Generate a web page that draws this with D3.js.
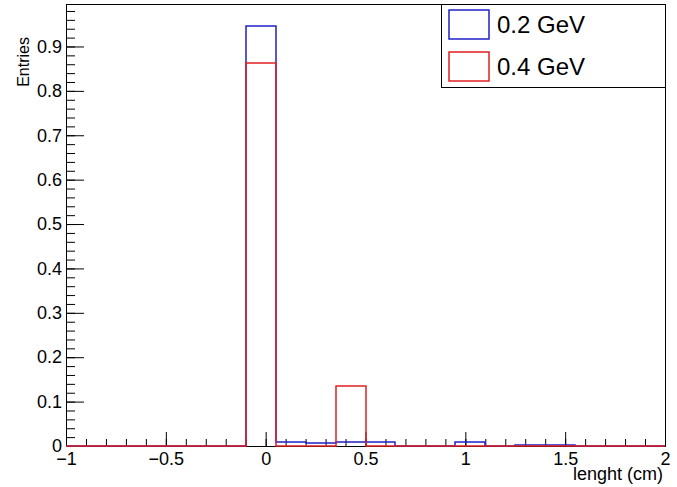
<!DOCTYPE html>
<html>
<head>
<meta charset="utf-8">
<script src="https://cdn.jsdelivr.net/npm/d3@7"></script>
<style>
  body { margin: 0; background: #fff; }
  svg { display: block; }
</style>
</head>
<body>
<svg width="677" height="487"></svg>
<script>
// bin edges of the histogram (20 bins of 0.15 from -1 to 2)
var binEdges = [-1, -0.85, -0.7, -0.55, -0.4, -0.25, -0.1, 0.05, 0.2, 0.35, 0.5,
  0.65, 0.8, 0.95, 1.1, 1.25, 1.4, 1.55, 1.7, 1.85, 2];

var series = ['0.2 GeV', '0.4 GeV'];
var colors = ['#2020c8', '#e02020'];

var entries02 = [0, 0, 0, 0, 0, 0, 0.946, 0.0097, 0.0062, 0.008, 0.008,
  0, 0, 0.009, 0, 0.002, 0.002, 0, 0, 0];
var entries04 = [0, 0, 0, 0, 0, 0, 0.862, 0, 0, 0.136, 0,
  0, 0, 0, 0, 0, 0, 0, 0, 0];

var xTicks = [-1, -0.5, 0, 0.5, 1, 1.5, 2];
var xTickLabels = ['\u22121', '\u22120.5', '0', '0.5', '1', '1.5', '2'];
var yTicks = [0, 0.1, 0.2, 0.3, 0.4, 0.5, 0.6, 0.7, 0.8, 0.9];
var yTickLabels = ['0', '0.1', '0.2', '0.3', '0.4', '0.5', '0.6', '0.7', '0.8', '0.9'];
var yMax = 0.9957;

var font = '"Liberation Sans", Arial, Helvetica, sans-serif';
var frameL = 66, frameR = 665, frameT = 4, frameB = 446;

var svg = d3.select('svg').style('font-family', font);
svg.append('rect').attr('width', 677).attr('height', 487).attr('fill', '#fff');

var x = d3.scaleLinear().domain([-1, 2]).range([frameL, frameR]);
var y = d3.scaleLinear().domain([0, yMax]).range([frameB, frameT]);

// frame
svg.append('rect')
  .attr('x', frameL + 0.5).attr('y', frameT + 0.5)
  .attr('width', frameR - frameL).attr('height', frameB - frameT)
  .attr('fill', 'none').attr('stroke', '#000').attr('stroke-width', 1);

function styleAxis(g) {
  g.select('.domain').remove();
  g.selectAll('line').attr('stroke', '#000');
  g.attr('font-family', font).attr('font-size', 18);
  g.selectAll('text').attr('fill', '#000');
}

// minor ticks
svg.append('g')
  .attr('transform', 'translate(0,' + frameB + ')')
  .call(d3.axisBottom(x).tickValues(d3.range(-1, 2.0001, 0.1)).tickSize(-7).tickFormat(''))
  .call(styleAxis);
svg.append('g')
  .attr('transform', 'translate(' + frameL + ',0)')
  .call(d3.axisLeft(y).tickValues(d3.range(0, 0.99, 0.02)).tickSize(-9).tickFormat(''))
  .call(styleAxis);

// major ticks + labels
svg.append('g')
  .attr('transform', 'translate(0,' + frameB + ')')
  .call(d3.axisBottom(x).tickValues(xTicks).tickSize(-14).tickPadding(5)
    .tickFormat(function(d, i) { return xTickLabels[i]; }))
  .call(styleAxis)
  .selectAll('text').attr('y', 19).attr('dy', 0);

svg.append('g')
  .attr('transform', 'translate(' + frameL + ',0)')
  .call(d3.axisLeft(y).tickValues(yTicks).tickSize(-18).tickPadding(4)
    .tickFormat(function(d, i) { return yTickLabels[i]; }))
  .call(styleAxis);

// axis titles
svg.append('text')
  .attr('x', 663).attr('y', 480)
  .attr('text-anchor', 'end')
  .attr('font-size', 18)
  .text('lenght (cm)');

svg.append('text')
  .attr('transform', 'translate(29,37) rotate(-90)')
  .attr('text-anchor', 'end')
  .attr('font-size', 16)
  .text('Entries');

// histograms drawn as step outlines
function snap(v) { return Math.round(v); }

function stepPoints(values) {
  var pts = [[binEdges[0], 0]];
  values.forEach(function(v, i) {
    pts.push([binEdges[i], v]);
    pts.push([binEdges[i + 1], v]);
  });
  pts.push([binEdges[binEdges.length - 1], 0]);
  return pts;
}

var line = d3.line()
  .x(function(d) { return snap(x(d[0])); })
  .y(function(d) { return snap(Math.min(y(d[1]), frameB + 0.5)); });

[entries02, entries04].forEach(function(values, i) {
  svg.append('path')
    .attr('d', line(stepPoints(values)))
    .attr('fill', 'none')
    .attr('stroke', colors[i])
    .attr('stroke-width', 1.5);
});

// legend
var legend = svg.append('g');
legend.append('rect')
  .attr('x', 441.5).attr('y', frameT + 0.5)
  .attr('width', 224).attr('height', 83)
  .attr('fill', '#fff').attr('stroke', '#000');

series.forEach(function(name, i) {
  var g = legend.append('g').attr('transform', 'translate(0,' + (i * 42) + ')');
  g.append('rect')
    .attr('x', 449).attr('y', 10)
    .attr('width', 40).attr('height', 29)
    .attr('fill', '#fff').attr('stroke', colors[i])
    .attr('stroke-width', 1.5);
  g.append('text')
    .attr('x', 497).attr('y', 33)
    .attr('font-size', 24)
    .attr('fill', '#000')
    .text(name);
});
</script>
</body>
</html>
